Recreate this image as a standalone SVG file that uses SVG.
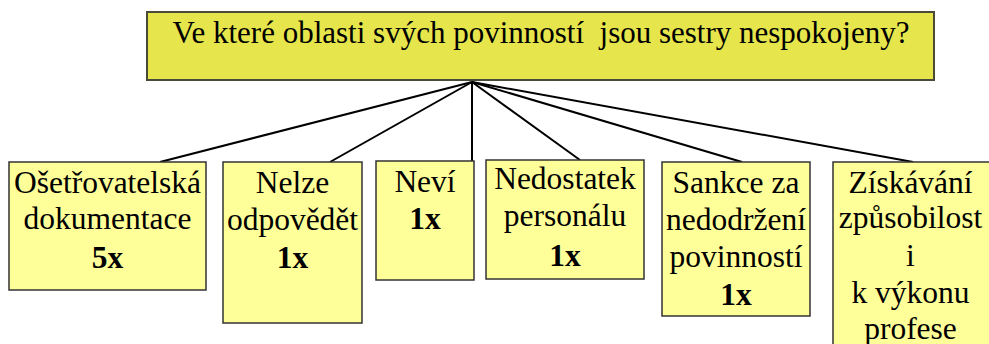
<svg xmlns="http://www.w3.org/2000/svg" width="989" height="344" viewBox="0 0 989 344" font-family="Liberation Serif">
  <style>
    text { fill: #000; text-anchor: middle; }
    .question-text { font-size: 31px; }
    .node-label { font-family: "Liberation Serif"; font-size: 31.5px; }
    .node-count { font-family: "Liberation Serif"; font-size: 31.5px; font-weight: bold; }
    .root { fill: #E6E64C; stroke: #4A4A38; stroke-width: 2; }
    .box { fill: #FFFF99; stroke: #333; stroke-width: 1.5; }
    .edge { stroke: #000; stroke-width: 2; fill: none; }
  </style>
  <rect width="989" height="344" fill="#fff"/>

  <g id="connectors">
    <line class="edge" x1="472" y1="82" x2="160" y2="162"/>
    <line class="edge" x1="472" y1="82" x2="330" y2="162"/>
    <line class="edge" x1="472" y1="82" x2="472" y2="161"/>
    <line class="edge" x1="472" y1="82" x2="580" y2="160"/>
    <line class="edge" x1="472" y1="82" x2="742" y2="162"/>
    <line class="edge" x1="472" y1="82" x2="913" y2="162"/>
  </g>

  <g id="question">
    <rect class="root" x="147" y="12" width="787" height="68"/>
    <text class="question-text" x="541" y="43" xml:space="preserve">Ve které oblasti svých povinností  jsou sestry nespokojeny?</text>
  </g>

  <g id="n-dokumentace">
    <rect class="box" x="9" y="162" width="197" height="128"/>
    <text class="node-label" x="107.5" y="193">Ošetřovatelská</text>
    <text class="node-label" x="107.5" y="229">dokumentace</text>
    <text class="node-count" x="107.5" y="268">5x</text>
  </g>

  <g id="n-nelze">
    <rect class="box" x="223" y="162" width="139" height="161"/>
    <text class="node-label" x="292.5" y="193">Nelze</text>
    <text class="node-label" x="292.5" y="230">odpovědět</text>
    <text class="node-count" x="292.5" y="268">1x</text>
  </g>

  <g id="n-nevi">
    <rect class="box" x="376" y="161" width="98" height="119"/>
    <text class="node-label" x="425" y="192">Neví</text>
    <text class="node-count" x="425" y="229">1x</text>
  </g>

  <g id="n-personal">
    <rect class="box" x="486" y="160" width="158" height="119"/>
    <text class="node-label" x="565" y="189">Nedostatek</text>
    <text class="node-label" x="565" y="226">personálu</text>
    <text class="node-count" x="565" y="266">1x</text>
  </g>

  <g id="n-sankce">
    <rect class="box" x="662" y="162" width="148" height="154"/>
    <text class="node-label" x="736" y="193">Sankce za</text>
    <text class="node-label" x="736" y="230">nedodržení</text>
    <text class="node-label" x="736" y="267">povinností</text>
    <text class="node-count" x="736" y="305">1x</text>
  </g>

  <g id="n-zpusobilost">
    <rect class="box" x="833" y="162" width="160" height="190"/>
    <text class="node-label" x="910.5" y="193">Získávání</text>
    <text class="node-label" x="910.5" y="228">způsobilost</text>
    <text class="node-label" x="910.5" y="266">i</text>
    <text class="node-label" x="910.5" y="303">k výkonu</text>
    <text class="node-label" x="910.5" y="339">profese</text>
  </g>
</svg>
